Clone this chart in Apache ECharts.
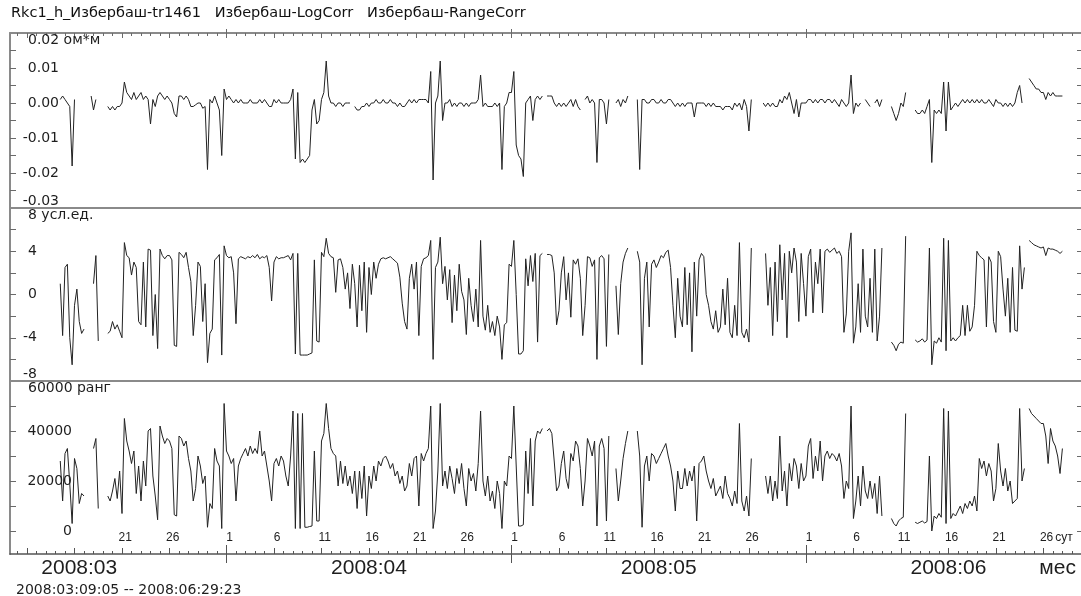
<!DOCTYPE html>
<html>
<head>
<meta charset="utf-8">
<script src="https://cdn.jsdelivr.net/npm/echarts@6/dist/echarts.min.js"></script>
<style>
html, body { margin: 0; padding: 0; background: #fff; }
#chart { width: 1081px; height: 596px; }
</style>
</head>
<body>
<div id="chart"></div>
<script>
const _ = null;

// Titles, units and axis texts
const seriesNames = ['Rkc1_h_Избербаш-tr1461', 'Избербаш-LogCorr', 'Избербаш-RangeCorr'];
const units = ['ом*м', 'усл.ед.', 'ранг'];
const monthLabels = ['2008:03', '2008:04', '2008:05', '2008:06'];
const dayMarks = [1, 6, 11, 16, 21, 26];
const periodText = '2008:03:09:05 -- 2008:06:29:23';

// Y scales of the three panels
const p1Ticks = [-0.025, -0.02, -0.015, -0.01, -0.005, 0, 0.005, 0.01, 0.015];
const p1Labels = [-0.03, -0.02, -0.01, 0, 0.01, 0.02];
const p2Ticks = [-6, -4, -2, 0, 2, 4, 6];
const p2Labels = [-8, -4, 0, 4, 8];
const p3Ticks = [0, 10000, 20000, 30000, 40000, 50000];
const p3Labels = [0, 20000, 40000, 60000];

// Samples every 6 hours starting 2008-03-09 00:00; one row per day (00, 06, 12, 18 h)
const rkc = [
  _,_,_,_, _,_,_,_, _,_,_,_, _,_,_,_, _,_,_,_,            // Mar 9-13
  _,_,0.001,0.002,  0.001,0.0,-0.001,-0.018,  0.001,_,_,0.0,  _,_,_,0.002,   // Mar 14-17
  -0.002,0.001,_,_,  _,_,-0.001,-0.002,  -0.001,-0.002,-0.001,-0.001,          // Mar 18-20
  0.0,0.006,0.003,0.002,  0.001,0.003,0.001,0.002,  0.003,0.001,0.002,0.001,   // Mar 21-23
  -0.006,0.001,-0.001,0.002,  0.003,0.002,0.001,0.002,  0.001,0.0,-0.003,-0.004, // Mar 24-26
  0.002,0.002,0.001,0.002,  0.001,-0.001,-0.001,-0.0005,  0.0,0.0,-0.0015,-0.001, // Mar 27-29
  -0.019,0.001,0.0,0.002,  0.0,-0.002,-0.015,0.004,                             // Mar 30-31
  0.001,0.002,0.001,0.0,  0.001,0.0,0.001,0.0,  0.0,0.0,0.001,0.0,              // Apr 1-3
  0.0,0.0,0.001,0.0,  0.001,0.0,-0.001,-0.001,  0.001,0.0,0.001,0.0,            // Apr 4-6
  0.0,0.0,0.0,0.001,  0.004,-0.016,0.003,-0.017,  -0.016,-0.017,-0.016,-0.015,  // Apr 7-9
  -0.002,0.001,-0.006,-0.005,  0.001,0.003,0.012,0.002,  0.0,0.0,-0.001,0.0,    // Apr 10-12
  0.0,-0.001,0.0,0.0,  0.0,_,-0.001,-0.002,  -0.002,-0.001,-0.001,0.0,          // Apr 13-15
  -0.001,0.0,0.0,0.001,  0.0,0.0,0.001,0.0,  0.0,0.001,0.0,0.0,                 // Apr 16-18
  -0.001,0.0,-0.001,-0.001,  0.0,0.001,0.0,0.001,  0.0,0.001,0.001,0.001,       // Apr 19-21
  0.001,0.0,0.009,-0.022,  0.0,0.002,0.012,-0.005,  0.0,0.0,0.001,-0.001,       // Apr 22-24
  0.0,-0.001,0.0,0.0,  -0.001,0.0,-0.001,0.0,  0.0,0.0,0.001,0.008,             // Apr 25-27
  -0.001,0.0,-0.001,-0.001,  -0.001,0.0,-0.001,0.0,  -0.019,-0.001,0.0,0.003,   // Apr 28-30
  0.003,0.009,-0.012,-0.015,  -0.016,-0.021,0.0,0.001,  0.002,-0.005,0.001,0.002, // May 1-3
  0.001,0.002,_,0.002,  0.002,0.002,0.0,-0.001,  0.0,-0.001,0.0,-0.001,         // May 4-6
  0.0,0.001,-0.001,0.001,  -0.001,-0.002,_,0.001,  0.002,0.0,0.001,0.0,         // May 7-9
  -0.017,0.001,0.001,0.0,  -0.006,0.001,_,_,  0.0,0.001,-0.001,0.001,           // May 10-12
  0.0,0.002,_,_,  _,0.001,-0.019,0.001,  0.001,0.0,0.0,0.001,                   // May 13-15
  0.001,0.0,0.0,0.001,  0.0,0.0,0.001,0.001,  0.0,-0.001,0.0,-0.001,            // May 16-18
  0.0,-0.001,0.0,0.0,  0.0,-0.004,0.0,0.0,  0.0,0.0,-0.001,0.0,                 // May 19-21
  -0.001,0.0,-0.001,-0.001,  -0.001,-0.002,-0.001,-0.001,  -0.001,-0.002,0.0,-0.001, // May 22-24
  0.0,-0.002,0.001,-0.001,  -0.008,0.001,_,_,  -0.002,_,0.0,-0.001,             // May 25-27
  0.0,-0.001,0.0,-0.001,  -0.001,0.001,0.0,0.002,  0.001,0.003,0.0,-0.003,      // May 28-30
  0.001,-0.004,0.0,0.0,                                                         // May 31
  0.0,0.001,0.001,0.0,  0.001,0.0,0.001,0.001,  0.0,0.001,0.001,0.0,            // Jun 1-3
  0.001,0.0,-0.001,0.001,  0.0,-0.001,0.0,0.008,  -0.003,0.0,-0.001,0.0,        // Jun 4-6
  _,0.001,0.0,-0.001,  _,0.0,0.001,-0.001,  0.001,_,_,_,                        // Jun 7-9
  -0.001,-0.003,-0.005,-0.003,  0.0,-0.001,0.003,_,  _,_,-0.002,-0.003,         // Jun 10-12
  -0.003,-0.002,-0.003,-0.001,  0.001,-0.017,-0.002,-0.003,  -0.002,-0.003,0.006,-0.008, // Jun 13-15
  0.006,-0.002,-0.001,0.0,  -0.001,0.0,0.001,0.0,  0.001,0.0,0.001,0.0,         // Jun 16-18
  0.001,0.0,0.001,0.0,  0.0,0.001,0.0,-0.001,  0.001,0.0,0.0,-0.001,            // Jun 19-21
  0.0,-0.001,0.0,-0.001,  0.0,0.003,0.005,0.0,  _,_,0.007,0.006,                // Jun 22-24
  0.005,0.004,0.004,0.003,  0.003,0.001,0.003,0.002,  0.003,0.002,0.002,0.002,  // Jun 25-27
  0.002,_,_,_,  _,_,_,_                                                         // Jun 28-29
];

const logCorr = [
  _,_,_,_, _,_,_,_, _,_,_,_, _,_,_,_, _,_,_,_,            // Mar 9-13
  _,_,1.0,-3.8,  2.5,2.8,-4.0,-6.5,  -1.0,0.5,-2.5,-3.6,  -3.2,_,_,_,        // Mar 14-17
  1.0,3.6,-4.3,_,  _,_,-3.6,-3.4,  -2.5,-3.2,-2.8,-3.4,                       // Mar 18-20
  -4.0,4.8,3.6,3.4,  1.8,3.0,2.5,-2.5,  -2.8,3.0,-3.0,4.2,                    // Mar 21-23
  4.1,-3.8,0.0,-5.0,  4.2,3.6,3.3,3.6,  3.6,3.2,-4.7,-4.8,                    // Mar 24-26
  3.9,3.7,3.4,3.9,  2.5,1.2,-3.8,-1.0,  3.0,2.6,-2.5,1.0,                     // Mar 27-29
  -6.3,-3.6,-3.2,3.2,  3.4,3.7,-5.6,4.5,                                      // Mar 30-31
  3.6,3.4,3.5,2.0,  -2.7,3.3,3.5,3.4,  3.3,3.5,3.4,3.6,                       // Apr 1-3
  3.4,3.7,3.3,3.5,  3.4,3.6,2.5,-0.6,  3.0,3.5,3.3,3.4,                       // Apr 4-6
  3.4,3.5,3.6,3.2,  3.8,-5.5,3.8,-5.6,  -5.6,-5.6,-5.6,-5.5,                  // Apr 7-9
  -5.4,3.2,-4.3,-4.4,  3.9,3.5,5.2,3.8,  3.5,3.4,0.2,3.2,                     // Apr 10-12
  3.3,2.5,0.5,2.0,  -1.3,2.8,1.0,-3.0,  2.7,-1.5,3.0,-3.5,                    // Apr 13-15
  2.5,0.0,3.0,1.5,  2.8,3.3,3.4,3.3,  3.4,3.5,3.3,3.1,                        // Apr 16-18
  2.9,1.6,-0.8,-2.5,  -3.2,1.5,2.8,0.5,  3.0,-3.8,2.6,3.3,                    // Apr 19-21
  3.4,3.6,5.0,-6.0,  2.5,3.0,5.3,1.0,  2.6,-0.5,2.3,-2.6,                     // Apr 22-24
  1.8,-1.5,2.8,0.3,  -0.5,-3.7,1.5,-1.0,  -2.5,0.5,-3.0,5.0,                  // Apr 25-27
  -2.0,-3.3,-1.0,-3.5,  -2.5,-3.8,-2.0,-3.0,  -6.0,-2.8,-2.6,2.8,             // Apr 28-30
  2.6,5.0,0.0,-5.5,  -5.5,-5.2,3.3,0.8,  3.6,1.2,3.8,-4.4,                    // May 1-3
  3.6,3.8,_,3.7,  3.7,3.6,2.0,-2.8,  -1.5,2.0,3.5,-0.5,                       // May 4-6
  2.0,-2.1,3.2,2.8,  3.3,1.5,-3.8,-1.0,  3.5,3.4,2.6,3.2,                     // May 7-9
  -6.0,3.4,3.6,3.3,  -4.8,3.7,_,_,  0.8,-3.7,1.0,3.0,                         // May 10-12
  3.8,4.3,_,_,  _,4.0,3.0,-6.5,  1.5,3.0,-3.0,2.8,                            // May 13-15
  3.2,2.5,3.0,3.6,  3.4,3.9,4.1,2.5,  -1.0,-4.0,1.5,-2.0,                     // May 16-18
  -3.0,2.5,-2.8,2.0,  -5.3,3.0,-2.0,3.2,  3.8,3.5,0.0,-1.0,                   // May 19-21
  -2.5,-3.2,-1.5,-3.5,  -3.0,0.5,-2.8,1.5,  -3.5,-4.0,-1.0,-3.8,              // May 22-24
  4.8,-3.5,-4.0,-3.2,  -4.4,4.3,_,_,  -4.8,_,_,3.8,                           // May 25-27
  -1.0,2.5,-3.8,3.0,  -2.5,4.6,-0.5,3.8,  -4.0,4.0,2.0,4.3,                   // May 28-30
  3.0,-2.5,3.8,1.0,                                                           // May 31
  -2.0,3.5,4.2,-1.7,  3.0,1.0,4.2,-1.7,  4.0,4.2,3.9,4.1,                     // Jun 1-3
  4.3,3.8,4.0,3.5,  -3.5,-1.8,4.0,5.7,  -4.5,-3.0,1.0,-3.5,                   // Jun 4-6
  4.2,-2.0,-3.0,1.5,  -3.5,4.2,-4.3,-2.0,  4.3,_,_,_,                         // Jun 7-9
  -4.4,-4.7,-5.2,-4.6,  -4.4,-4.5,5.4,_,  _,_,-4.2,-4.4,                      // Jun 10-12
  -4.3,-4.1,-4.4,-4.2,  4.3,-6.5,-4.3,-4.5,  -4.0,-4.4,5.2,-5.2,              // Jun 13-15
  5.0,-4.3,-4.0,-4.3,  -4.0,-3.8,-1.0,-3.8,  -1.0,-3.4,-3.0,-1.0,             // Jun 16-18
  4.0,3.6,3.4,3.2,  -3.0,3.5,3.0,-2.5,  -3.5,4.0,3.5,0.5,                     // Jun 19-21
  -2.0,1.5,-3.5,2.5,  -3.3,-3.4,4.5,0.5,  2.5,_,5.0,4.8,                      // Jun 22-24
  4.6,4.5,4.4,4.3,  4.4,3.6,4.3,4.2,  4.2,4.1,4.0,3.8,                        // Jun 25-27
  4.0,_,_,_,  _,_,_,_                                                         // Jun 28-29
];

const rangeCorr = [
  _,_,_,_, _,_,_,_, _,_,_,_, _,_,_,_, _,_,_,_,            // Mar 9-13
  _,_,28000,12000,  31000,33000,19000,3000,  29000,25000,11000,15000,  14000,_,_,_,  // Mar 14-17
  33000,37000,9000,_,  _,_,14000,12000,  16000,21000,13000,24000,             // Mar 18-20
  7000,45000,36000,32000,  27000,32000,15000,26000,  12000,28000,18000,40000, // Mar 21-23
  41000,22000,14000,4500,  42000,38000,35000,37000,  36000,33000,6500,6000,   // Mar 24-26
  38000,37000,34000,36000,  29000,24000,12000,17000,  30000,26000,19000,22000, // Mar 27-29
  1500,11000,9000,33000,  28000,26000,1000,51000,                             // Mar 30-31
  32000,30000,27000,29000,  12000,26000,29000,31000,  33000,30000,34000,31000, // Apr 1-3
  33000,31000,40000,30000,  32000,26000,20000,12000,  27000,29000,26000,30000, // Apr 4-6
  28000,22000,18000,30000,  48000,1000,47000,1000,  47000,1500,1500,1800,     // Apr 7-9
  2000,32000,4000,4000,  36000,39000,51000,41000,  33000,31000,30000,18000,   // Apr 10-12
  28000,19000,26000,18000,  22000,15000,24000,9000,  24000,13000,26000,6000,  // Apr 13-15
  22000,17000,26000,20000,  28000,26000,29000,30000,  28000,25000,27000,22000, // Apr 16-18
  24000,19000,22000,16000,  18000,27000,22000,29000,  30000,10000,31000,28000, // Apr 19-21
  31000,33000,50000,1000,  8000,24000,51000,18000,  24000,17000,26000,21000,  // Apr 22-24
  15000,25000,19000,27000,  17000,10000,25000,20000,  23000,16000,27000,48000, // Apr 25-27
  20000,14000,22000,12000,  16000,9000,20000,15000,  1000,20000,18000,30000,  // Apr 28-30
  29000,50000,26000,2000,  2000,2500,32000,15000,  37000,10000,36000,40000,   // May 1-3
  39000,41000,_,40000,  41000,39000,28000,16000,  18000,27000,32000,21000,    // May 4-6
  17000,31000,28000,36000,  34000,25000,10000,20000,  37000,34000,30000,36000, // May 7-9
  2000,34000,37000,33000,  4000,38000,_,_,  25000,12000,20000,29000,          // May 10-12
  35000,40000,_,_,  _,40000,30000,1500,  26000,30000,20000,31000,             // May 13-15
  30000,27000,29000,31000,  33000,35000,30000,26000,  20000,8000,24000,17000, // May 16-18
  17000,25000,18000,24000,  20000,26000,4000,27000,  28000,30000,24000,20000, // May 19-21
  17000,21000,14000,16000,  18000,13000,22000,15000,  13000,10000,16000,11000, // May 22-24
  43000,12000,8000,14000,  6000,29000,_,_,  3000,_,_,22000,                   // May 25-27
  15000,22000,12000,20000,  13000,38000,16000,24000,  10000,27000,20000,29000, // May 28-30
  26000,17000,27000,20000,                                                    // May 31
  22000,34000,37000,21000,  30000,24000,36000,20000,  30000,32000,29000,31000, // Jun 1-3
  30000,28000,31000,26000,  13000,20000,17000,50000,  5000,12000,22000,10000, // Jun 4-6
  26000,16000,13000,20000,  13000,19000,7000,22000,  6000,_,_,_,              // Jun 7-9
  5000,3000,2000,4000,  5000,5500,47000,_,  _,_,3500,3000,                    // Jun 10-12
  3500,4000,3200,3800,  30000,0,6000,5000,  7000,5500,49000,3000,             // Jun 13-15
  48000,5000,7000,6000,  8000,10000,7000,11000,  9000,12000,10000,14000,      // Jun 16-18
  8000,29000,25000,28000,  22000,27000,24000,12000,  17000,35000,24000,18000, // Jun 19-21
  25000,16000,20000,11000,  12000,13000,49000,20000,  25000,_,49000,47000,    // Jun 22-24
  46000,45000,44000,43000,  43000,38000,27000,41000,  36000,34000,30000,23000, // Jun 25-27
  33000,_,_,_,  _,_,_,_                                                       // Jun 28-29
];

const HOUR = 3600e3, DAY = 24 * HOUR, STEP = 6 * HOUR;
const T0 = Date.UTC(2008, 2, 9);
const X_MIN = Date.UTC(2008, 2, 9, 5);
const X_MAX = Date.UTC(2008, 5, 29, 23);

const pairs = vals => vals.map((v, i) => [T0 + i * STEP, v]);

// Calendar ticks
const dayTicks = [], fiveDayTicks = [], monthTicks = [], dayLabelValues = [];
for (let t = Date.UTC(2008, 2, 10); t <= X_MAX; t += DAY) {
  const d = new Date(t).getUTCDate();
  dayTicks.push(t);
  if (dayMarks.includes(d)) {
    fiveDayTicks.push(t);
    if (t >= Date.UTC(2008, 2, 21)) dayLabelValues.push(t + 8 * HOUR);
  }
  if (d === 1) monthTicks.push(t);
}
const DAY_UNIT_POS = Date.UTC(2008, 5, 28, 4);
dayLabelValues.push(DAY_UNIT_POS);

const monthStarts = [Date.UTC(2008, 2, 1), Date.UTC(2008, 3, 1), Date.UTC(2008, 4, 1), Date.UTC(2008, 5, 1), Date.UTC(2008, 6, 1)];
const monthText = new Map();
monthLabels.forEach((m, i) => monthText.set((monthStarts[i] + monthStarts[i + 1]) / 2, m));
const MONTH_UNIT_POS = Date.UTC(2008, 5, 27, 12);
monthText.set(MONTH_UNIT_POS, 'мес');

const FONT = "'Liberation Sans', Arial, sans-serif";
const SMALL_FONT = "'DejaVu Sans', sans-serif";
const FRAME = '#8a8a8a';
const TICK = '#6a6a6a';
const TEXT = '#1e1e1e';

function xAxis(grid, position, opts) {
  return Object.assign({
    type: 'value', gridIndex: grid, position, min: X_MIN, max: X_MAX,
    splitLine: { show: false },
    axisLine: { show: false, onZero: false },
    axisTick: { show: false },
    axisLabel: { show: false }
  }, opts);
}
const tick = (values, length, inside, color) => ({
  show: true, inside, length, customValues: values,
  lineStyle: { color: color || TICK, width: 1 }
});

const xAxes = [
  xAxis(0, 'top', { axisLine: { show: true, onZero: false, lineStyle: { color: FRAME, width: 2 } },
                    axisTick: tick(dayTicks, 3, true) }),
  xAxis(0, 'top', { axisTick: tick(fiveDayTicks, 5, true) }),
  xAxis(0, 'top', { axisTick: tick(monthTicks, 4, false) }),
  xAxis(1, 'top', { axisLine: { show: true, onZero: false, lineStyle: { color: FRAME, width: 2 } } }),
  xAxis(2, 'top', { axisLine: { show: true, onZero: false, lineStyle: { color: FRAME, width: 2 } } }),
  xAxis(2, 'bottom', {
    axisLine: { show: true, onZero: false, lineStyle: { color: '#555', width: 1.5 } },
    axisTick: tick(dayTicks, 3, true, '#555'),
    axisLabel: {
      show: true, inside: true, margin: 10, verticalAlign: 'bottom',
      customValues: dayLabelValues,
      formatter: v => v === DAY_UNIT_POS ? 'сут' : String(new Date(v).getUTCDate()),
      fontSize: 12, color: TEXT, fontFamily: FONT
    }
  }),
  xAxis(2, 'bottom', { axisTick: tick(fiveDayTicks, 6, true, '#555') }),
  xAxis(2, 'bottom', { axisTick: tick(monthTicks, 9, true, '#555') }),
  xAxis(2, 'bottom', {
    axisTick: tick(monthTicks, 9, false, '#555'),
    axisLabel: {
      show: true, margin: 4, verticalAlign: 'top',
      customValues: Array.from(monthText.keys()),
      formatter: v => monthText.get(v) || '',
      fontSize: 21, color: TEXT, fontFamily: FONT
    }
  })
];

const panels = [
  { min: -0.03, max: 0.02, ticks: p1Ticks, labels: p1Labels, unit: units[0], fmt: v => v.toFixed(2), margin: 49 },
  { min: -8, max: 8, ticks: p2Ticks, labels: p2Labels, unit: units[1], fmt: v => String(v), margin: 27 },
  { min: -9200, max: 60000, ticks: p3Ticks, labels: p3Labels, unit: units[2], fmt: v => String(v), margin: 62 }
];

const yAxes = [];
const mainY = [];
panels.forEach((p, g) => {
  const base = {
    type: 'value', gridIndex: g, min: p.min, max: p.max,
    splitLine: { show: false },
    axisLine: { show: false, onZero: false },
    axisTick: { show: false },
    axisLabel: { show: false }
  };
  const labelStyle = { fontSize: 14, color: TEXT, fontFamily: SMALL_FONT };
  const top = p.labels[p.labels.length - 1];
  const bottom = p.labels[0] === p.min ? p.labels[0] : null;
  const inner = p.labels.filter(v => v !== top && v !== bottom);
  mainY.push(yAxes.length);
  yAxes.push(Object.assign({}, base, {
    position: 'left',
    axisLine: { show: true, onZero: false, lineStyle: { color: FRAME, width: 2 } },
    axisTick: tick(p.ticks, 6, true),
    axisLabel: Object.assign({ show: true, inside: true, align: 'right', margin: p.margin,
      customValues: inner, formatter: p.fmt }, labelStyle)
  }));
  yAxes.push(Object.assign({}, base, {
    position: 'left',
    axisLabel: Object.assign({ show: true, inside: true, align: 'left', margin: 18, verticalAlign: 'top',
      customValues: [top], formatter: v => p.fmt(v) + ' ' + p.unit }, labelStyle)
  }));
  if (bottom !== null) {
    yAxes.push(Object.assign({}, base, {
      position: 'left',
      axisLabel: Object.assign({ show: true, inside: true, align: 'right', margin: p.margin, verticalAlign: 'bottom',
        customValues: [bottom], formatter: p.fmt }, labelStyle)
    }));
  }
  yAxes.push(Object.assign({}, base, {
    position: 'right',
    axisTick: tick(p.ticks, 4, true)
  }));
});

const lineSeries = (data, xi, yi) => ({
  type: 'line', xAxisIndex: xi, yAxisIndex: yi, data: pairs(data),
  showSymbol: false, symbol: 'none', connectNulls: false, silent: true,
  lineStyle: { color: '#222', width: 1 }
});

const chart = echarts.init(document.getElementById('chart'), null, { renderer: 'canvas' });
chart.setOption({
  animation: false,
  backgroundColor: '#fff',
  title: [
    { text: seriesNames.join('   '), left: 11, top: 6, padding: 0,
      textStyle: { fontSize: 14.5, fontWeight: 'normal', color: '#111', fontFamily: SMALL_FONT } },
    { text: periodText, left: 16, top: 583, padding: 0,
      textStyle: { fontSize: 14, fontWeight: 'normal', color: TEXT, fontFamily: SMALL_FONT } }
  ],
  grid: [
    { left: 10, right: 0, top: 33, height: 175 },
    { left: 10, right: 0, top: 208, height: 173 },
    { left: 10, right: 0, top: 381, height: 173 }
  ],
  xAxis: xAxes,
  yAxis: yAxes,
  series: [
    lineSeries(rkc, 0, mainY[0]),
    lineSeries(logCorr, 3, mainY[1]),
    lineSeries(rangeCorr, 4, mainY[2])
  ]
});
</script>
</body>
</html>
